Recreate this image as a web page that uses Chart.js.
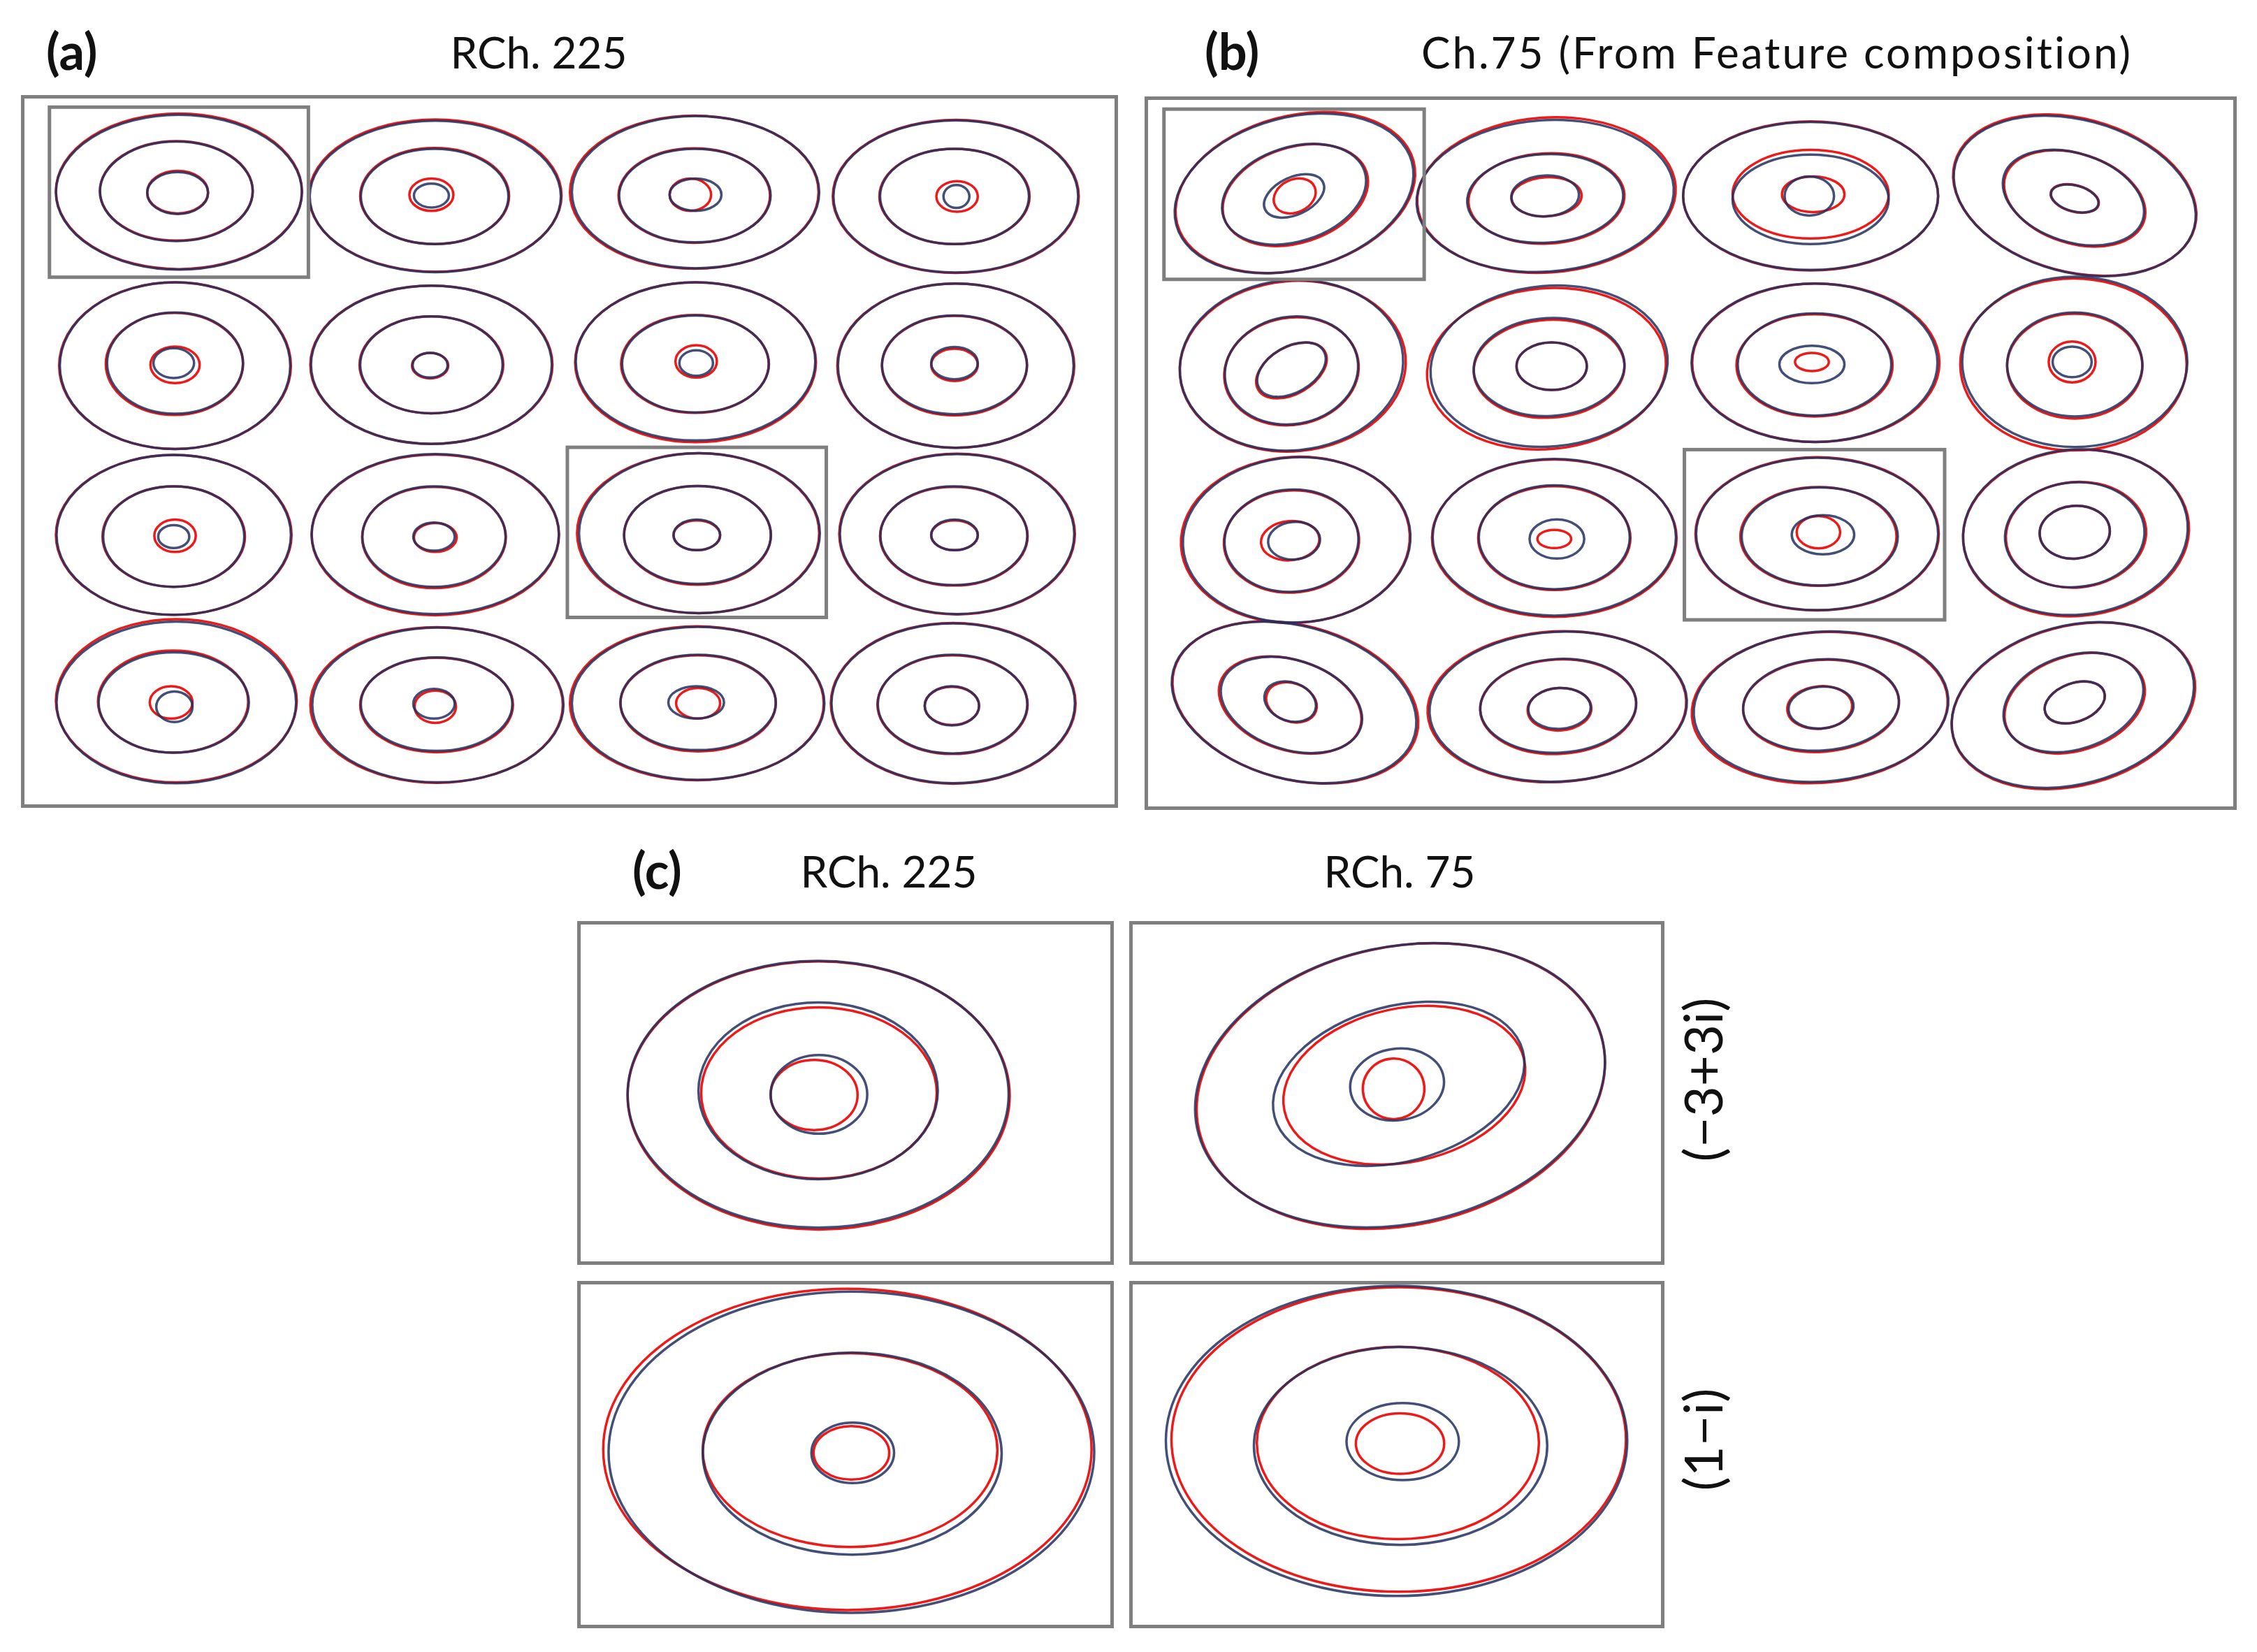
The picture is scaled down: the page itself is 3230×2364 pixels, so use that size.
<!DOCTYPE html>
<html>
<head>
<meta charset="utf-8">
<script src="https://cdn.jsdelivr.net/npm/chart.js@4.4.0/dist/chart.umd.min.js"></script>
<style>
    body { margin: 0; background: #fff; }
    #page { position: relative; width: 3230px; height: 2364px; overflow: hidden; font-family: Lato, "Open Sans", sans-serif; color: #111; font-variant-ligatures: none; }
    #page canvas { position: absolute; }
    .lbl { position: absolute; font-size: 62px; line-height: 62px; white-space: nowrap; }
    .bold { font-weight: bold; font-size: 72px; line-height: 72px; }
    .mid { transform: translateX(-50%); }
    .rot { transform: translate(-50%, -50%) rotate(-90deg); font-size: 76px; line-height: 76px; }
</style>
</head>
<body>
<div id="page">
    <div class="lbl bold" style="left:66px; top:36px;">(a)</div>
    <div class="lbl mid" style="left:771px; top:43px;">RCh. 225</div>
    <div class="lbl bold" style="left:1724px; top:36px;">(b)</div>
    <div class="lbl mid" style="left:2543px; top:43px; letter-spacing:3px;">Ch.75 (From Feature composition)</div>
    <div class="lbl bold" style="left:905px; top:1208px;">(c)</div>
    <div class="lbl mid" style="left:1272px; top:1215px;">RCh. 225</div>
    <div class="lbl mid" style="left:2003px; top:1215px;">RCh. 75</div>
    <div class="lbl rot" id="lblTop" style="left:2436px; top:1545px;"></div>
    <div class="lbl rot" id="lblBottom" style="left:2436px; top:2060px;"></div>

    <canvas id="chartA" width="1570" height="1020" style="left:30px; top:136px;"></canvas>
    <canvas id="chartB" width="1563" height="1021" style="left:1638px; top:138px;"></canvas>
    <canvas id="chartC1" width="768" height="492" style="left:826px; top:1318px;"></canvas>
    <canvas id="chartC2" width="766" height="492" style="left:1616px; top:1318px;"></canvas>
    <canvas id="chartC3" width="768" height="497" style="left:826px; top:1833px;"></canvas>
    <canvas id="chartC4" width="766" height="497" style="left:1616px; top:1833px;"></canvas>
</div>

<script>
// 16-QAM symbol grid (I across, Q down from the top row)
const symbolI = [-3, -1, 1, 3];
const symbolQ = [3, 1, -1, -3];

// symbols that are boxed in (a)/(b) and zoomed in (c)
const markedI = [-3, 1];
const markedQ = [3, -1];
const markedLabels = ['(\u22123+3i)', '(1\u2212i)'];

// contour ellipses, one per symbol, row by row: [dI, dQ, halfI, halfQ, tiltDeg]
// (a) RCh. 225 - reference (blue)
const aRefOuter = [
    [0, 0, .95, .91, 0], [-.02, -.05, .97, .89, 0], [-.01, 0, .955, .895, 0], [0, -.05, .945, .895, 0],
    [-.03, -.04, .89, .98, 0], [-.05, -.03, .93, .93, 0], [-.01, .01, .925, .93, 0], [0, -.04, .91, .965, 0],
    [-.04, -.03, .905, .94, 0], [-.02, -.02, .955, .94, 0], [.02, -.01, .93, .94, 0], [.01, -.02, .905, .94, 0],
    [-.02, 0, .925, .95, 0], [0, -.03, .97, .91, 0], [.01, -.01, .975, .9, 0], [-.02, -.01, .94, .94, 0]
];
const aRefMiddle = [
    [-.02, .01, .59, .585, 0], [-.025, -.05, .57, .56, 0], [-.015, -.04, .585, .55, 0], [-.01, -.05, .575, .56, 0],
    [-.03, -.01, .525, .595, 0], [-.05, -.03, .55, .57, 0], [-.01, -.02, .567, .57, 0], [-.01, -.03, .56, .58, 0],
    [-.04, -.05, .545, .59, 0], [-.03, -.05, .553, .59, 0], [.005, -.03, .567, .575, 0], [-.015, -.04, .567, .58, 0],
    [-.04, 0, .58, .59, 0], [-.01, -.02, .585, .55, 0], [.01, 0, .6, .56, 0], [-.025, -.02, .577, .58, 0]
];
const aRefInner = [
    [-.01, -.01, .235, .246, 0], [-.05, -.04, .135, .14, 0], [-.01, -.03, .2, .19, 0], [.005, -.05, .1, .135, 0],
    [-.04, -.01, .157, .175, 0], [-.06, -.035, .135, .145, 0], [-.005, -.01, .13, .15, 0], [-.01, -.01, .18, .19, 0],
    [-.04, -.05, .12, .135, 0], [-.03, -.05, .16, .165, 0], [0, -.03, .18, .18, 0], [-.01, -.03, .18, .18, 0],
    [-.035, -.05, .14, .18, 0], [-.03, -.015, .16, .175, 0], [-.005, 0, .215, .19, 0], [-.03, -.04, .21, .23, 0]
];
// (a) RCh. 225 - predicted (red)
const aPredOuter = [
    [0, .01, .95, .915, 0], [-.02, -.04, .975, .895, 0], [-.02, 0, .96, .9, 0], [0, -.05, .95, .9, 0],
    [-.03, -.04, .895, .98, 0], [-.05, -.03, .935, .93, 0], [-.01, 0, .93, .94, 0], [0, -.04, .915, .965, 0],
    [-.04, -.03, .91, .94, 0], [-.02, -.03, .955, .945, 0], [.01, -.01, .935, .94, 0], [.01, -.02, .91, .945, 0],
    [-.02, .02, .93, .96, 0], [-.01, -.03, .975, .915, 0], [0, -.01, .98, .905, 0], [-.02, -.01, .945, .945, 0]
];
const aPredMiddle = [
    [-.02, .015, .59, .585, 0], [-.025, -.045, .575, .565, 0], [-.02, -.04, .585, .555, 0], [-.01, -.05, .58, .56, 0],
    [-.035, -.02, .53, .6, 0], [-.05, -.03, .555, .57, 0], [-.015, -.02, .57, .575, 0], [-.01, -.04, .56, .585, 0],
    [-.04, -.05, .55, .59, 0], [-.03, -.06, .555, .595, 0], [.005, -.035, .567, .58, 0], [-.015, -.045, .57, .58, 0],
    [-.045, .01, .58, .6, 0], [-.01, -.03, .59, .555, 0], [.01, -.01, .6, .565, 0], [-.025, -.025, .58, .58, 0]
];
const aPredInner = [
    [-.01, 0, .235, .25, 0], [-.05, -.03, .17, .19, 0], [-.05, -.03, .16, .19, 0], [.01, -.05, .16, .18, 0],
    [-.03, -.03, .19, .215, 0], [-.06, -.04, .14, .15, 0], [-.005, .01, .16, .19, 0], [-.01, -.03, .18, .19, 0],
    [-.03, -.04, .16, .19, 0], [-.02, -.06, .165, .17, 0], [0, -.035, .18, .175, 0], [-.01, -.035, .18, .175, 0],
    [-.06, 0, .165, .19, 0], [-.02, -.05, .16, .19, 0], [.01, -.01, .17, .18, 0], [-.03, -.04, .21, .225, 0]
];

// (b) Ch.75 from feature composition - reference (blue)
const bRefOuter = [
    [0, .01, .937, .892, -15], [-.07, -.02, .99, .89, -4], [-.03, -.02, .98, .87, 0], [0, -.02, .95, .895, 15],
    [-.02, -.01, .86, 1.0, -5], [-.04, -.02, .913, .944, -5], [0, .02, .945, .93, 0], [0, .03, .865, 1.0, 0],
    [.02, -.06, .875, .97, -3], [0, -.03, .935, .92, 0], [.02, .01, .93, .895, 0], [.005, .03, .865, .97, -5],
    [0, .03, .96, .9, 15], [.03, -.02, .99, .88, -3], [.05, -.02, .98, .88, -4], [-.015, 0, .95, .93, -15]
];
const bRefMiddle = [
    [0, 0, .57, .553, -18], [-.07, -.05, .6, .52, -3], [-.03, -.06, .6, .525, 0], [-.01, -.04, .56, .52, 18],
    [-.02, -.07, .515, .63, -10], [-.04, -.03, .58, .575, -3], [0, 0, .59, .6, 0], [0, 0, .52, .61, 0],
    [-.02, -.07, .515, .6, -3], [0, -.03, .58, .61, 0], [.04, -.02, .6, .575, 0], [0, 0, .537, .615, -5],
    [-.02, 0, .56, .525, 18], [.03, -.01, .6, .55, -3], [.05, 0, .6, .535, -4], [-.01, .03, .553, .55, -18]
];
const bRefInner = [
    [0, -.02, .246, .22, -25], [-.07, -.02, .26, .24, -3], [-.04, -.02, .19, .23, 0], [0, -.05, .187, .152, 15],
    [-.02, -.06, .286, .27, -30], [-.02, -.02, .27, .28, 0], [-.02, 0, .25, .22, 0], [-.02, .03, .15, .18, 0],
    [0, -.07, .2, .22, -5], [.02, -.05, .21, .23, 0], [.065, 0, .24, .23, 0], [0, .03, .27, .31, -5],
    [-.03, .04, .204, .226, 20], [.04, -.04, .24, .24, -3], [.05, -.03, .25, .245, -5], [0, .03, .24, .226, -20]
];
// (b) - predicted (red)
const bPredOuter = [
    [.01, .02, .94, .9, -15], [-.06, -.01, .995, .91, -4], [-.03, -.02, .98, .875, 0], [0, -.01, .955, .9, 15],
    [-.01, -.02, .87, 1.0, -5], [-.06, -.05, .92, .945, -5], [.01, .02, .95, .93, 0], [-.01, 0, .87, 1.01, 0],
    [.01, -.06, .88, .975, -3], [0, -.04, .94, .925, 0], [.02, .01, .935, .9, 0], [.01, .02, .87, .975, -5],
    [.01, .03, .965, .905, 15], [.02, -.02, .995, .885, -3], [.04, -.03, .985, .885, -4], [-.01, -.01, .955, .935, -15]
];
const bPredMiddle = [
    [.01, -.01, .575, .56, -18], [-.06, -.05, .6, .53, -3], [-.03, 0, .6, .52, 0], [0, -.05, .56, .525, 18],
    [-.02, -.08, .52, .63, -10], [-.04, -.05, .58, .575, -3], [0, -.01, .6, .6, 0], [0, -.02, .52, .615, 0],
    [-.02, -.08, .52, .6, -3], [0, -.04, .585, .61, 0], [.03, -.02, .6, .58, 0], [.01, 0, .54, .62, -5],
    [-.03, 0, .565, .53, 18], [.03, -.02, .6, .555, -3], [.05, -.01, .6, .54, -4], [0, .02, .555, .555, -18]
];
const bPredInner = [
    [.005, -.02, .168, .192, -25], [-.06, -.03, .27, .23, -3], [-.01, 0, .24, .21, 0], [0, -.05, .19, .155, 15],
    [-.02, -.07, .295, .275, -30], [-.02, -.02, .27, .28, 0], [-.02, .03, .13, .107, 0], [-.02, .03, .18, .24, 0],
    [-.03, -.07, .225, .23, -5], [0, -.05, .13, .107, 0], [.03, .03, .167, .19, 0], [0, .03, .27, .31, -5],
    [-.02, .03, .2, .225, 20], [.04, -.05, .245, .25, -3], [.04, -.03, .25, .25, -5], [0, .03, .24, .225, -20]
];

// (c) zoom boxes: RCh.225 (-3+3i), RCh.75 (-3+3i), RCh.225 (1-i), RCh.75 (1-i)
const cRefOuter = [[-.102, -.008, .71, .776, 0], [.012, .045, .775, .806, -12], [.022, .014, .905, .925, 0], [-.001, .079, .862, .893, 0]];
const cRefMiddle = [[-.102, .012, .446, .514, 0], [.007, .053, .48, .452, -15], [.025, .006, .557, .582, 0], [.014, .05, .548, .57, 0]];
const cRefInner = [[-.099, -.008, .18, .229, 0], [.001, .049, .176, .208, -8], [.027, .01, .154, .174, 0], [.022, .075, .21, .222, 0]];
const cPredOuter = [[-.1, -.015, .712, .78, 0], [.015, .04, .772, .81, -12], [.007, .03, .91, .925, 0], [.007, .087, .849, .877, 0]];
const cPredMiddle = [[-.099, 0, .439, .498, 0], [.028, .045, .458, .447, -12], [.017, .026, .549, .558, 0], [.004, .067, .527, .554, 0]];
const cPredInner = [[-.117, -.012, .162, .204, 0], [-.012, .024, .115, .176, -5], [.022, .01, .141, .154, 0], [.012, .063, .165, .174, 0]];

var REF_COLOR = '#22305e';
var PRED_COLOR = '#ee1a1a';
var FRAME_COLOR = '#7f7f7f';

// draws every data point as a contour ellipse, plus the marked boxes and the frame
const contourPlugin = {
    id: 'contours',
    afterDatasetsDraw: function(chart, args, opts) {
        var ctx = chart.ctx;
        var xs = chart.scales.x, ys = chart.scales.y;
        var kx = Math.abs(xs.getPixelForValue(1) - xs.getPixelForValue(0));
        var ky = Math.abs(ys.getPixelForValue(1) - ys.getPixelForValue(0));

        chart.data.datasets.forEach(function(ds, i) {
            var meta = chart.getDatasetMeta(i);
            ctx.save();
            ctx.strokeStyle = ds.borderColor;
            ctx.lineWidth = ds.borderWidth;
            ctx.globalAlpha = ds.lineAlpha;
            meta.data.forEach(function(pt, j) {
                var e = ds.data[j];
                ctx.beginPath();
                ctx.ellipse(pt.x, pt.y, e.rI * kx, e.rQ * ky, e.tilt * Math.PI / 180, 0, 2 * Math.PI);
                ctx.stroke();
            });
            ctx.restore();
        });

        ctx.save();
        ctx.strokeStyle = FRAME_COLOR;
        ctx.lineWidth = 5;
        (opts.marks || []).forEach(function(m) {
            var x0 = xs.getPixelForValue(m[0] - 1), x1 = xs.getPixelForValue(m[0] + 1);
            var y0 = ys.getPixelForValue(m[1] + 1), y1 = ys.getPixelForValue(m[1] - 1);
            ctx.strokeRect(x0, y0, x1 - x0, y1 - y0);
        });
        ctx.strokeRect(2.5, 2.5, chart.width - 5, chart.height - 5);
        ctx.restore();
    }
};

function toPoints(ringLists, centerI, centerQ) {
    var out = [];
    ringLists.forEach(function(list) {
        list.forEach(function(e, k) {
            out.push({ x: centerI(k) + e[0], y: centerQ(k) + e[1], rI: e[2], rQ: e[3], tilt: e[4] });
        });
    });
    return out;
}

function contourChart(id, view, refRings, predRings, centerI, centerQ, marks, width) {
    return new Chart(document.getElementById(id), {
        type: 'scatter',
        data: {
            datasets: [
                { label: 'Predicted', data: toPoints(predRings, centerI, centerQ), borderColor: PRED_COLOR, borderWidth: width, lineAlpha: 1, pointRadius: 0 },
                { label: 'Reference', data: toPoints(refRings, centerI, centerQ), borderColor: REF_COLOR, borderWidth: width, lineAlpha: 0.85, pointRadius: 0 }
            ]
        },
        options: {
            responsive: false,
            animation: false,
            devicePixelRatio: 1,
            layout: { padding: 0 },
            plugins: { legend: { display: false }, tooltip: { enabled: false }, contours: { marks: marks } },
            scales: {
                x: { type: 'linear', display: false, min: view[0], max: view[1] },
                y: { type: 'linear', display: false, min: view[2], max: view[3] }
            }
        },
        plugins: [contourPlugin]
    });
}

var gridI = function(k) { return symbolI[k % 4]; };
var gridQ = function(k) { return symbolQ[Math.floor(k / 4)]; };
var marks = markedI.map(function(v, i) { return [v, markedQ[i]]; });

contourChart('chartA', [-4.22, 4.253, -4.239, 4.142],
    [aRefOuter, aRefMiddle, aRefInner], [aPredOuter, aPredMiddle, aPredInner], gridI, gridQ, marks, 3.5);
contourChart('chartB', [-4.149, 4.245, -4.233, 4.149],
    [bRefOuter, bRefMiddle, bRefInner], [bPredOuter, bPredMiddle, bPredInner], gridI, gridQ, marks, 3.5);

// zoom boxes: symbol +/- 1 in both directions
['chartC1', 'chartC2', 'chartC3', 'chartC4'].forEach(function(id, n) {
    var m = Math.floor(n / 2);
    var pick = function(arr) { return [arr[n]]; };
    contourChart(id, [markedI[m] - 1, markedI[m] + 1, markedQ[m] - 1, markedQ[m] + 1],
        [pick(cRefOuter), pick(cRefMiddle), pick(cRefInner)],
        [pick(cPredOuter), pick(cPredMiddle), pick(cPredInner)],
        function() { return markedI[m]; }, function() { return markedQ[m]; }, [], 3.5);
});

document.getElementById('lblTop').textContent = markedLabels[0];
document.getElementById('lblBottom').textContent = markedLabels[1];
</script>
</body>
</html>
